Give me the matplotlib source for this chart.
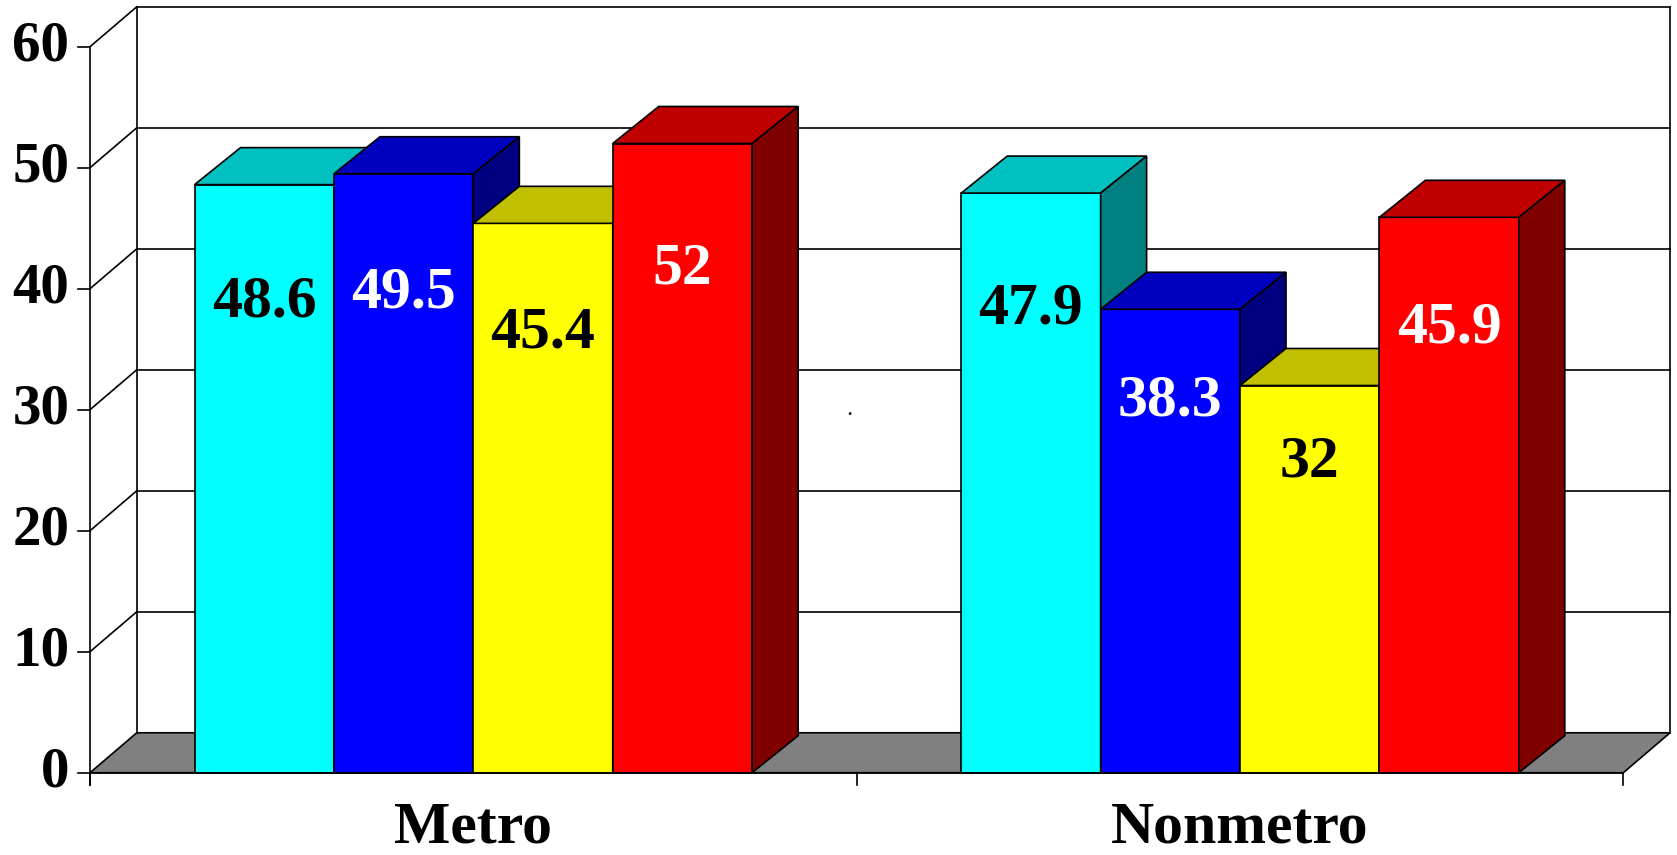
import matplotlib.pyplot as plt
from matplotlib.patches import Polygon

plt.rcParams["font.family"] = ["Liberation Serif", "DejaVu Serif"]
plt.rcParams["font.weight"] = "bold"

# Dane
categories = ["Metro", "Nonmetro"]
values = [[48.6, 49.5, 45.4, 52.0],
          [47.9, 38.3, 32.0, 45.9]]
value_labels = [["48.6", "49.5", "45.4", "52"],
                ["47.9", "38.3", "32", "45.9"]]
y_ticks = [0, 10, 20, 30, 40, 50, 60]

# Kolory serii: przód, góra, bok, kolor etykiety
front_cols = ["#00FFFF", "#0000FF", "#FFFF00", "#FF0000"]
top_cols = ["#00C0C0", "#0000C0", "#C0C000", "#C00000"]
side_cols = ["#008080", "#000080", "#808000", "#800000"]
text_cols = ["black", "white", "black", "white"]

n_series = 4
bar_w = 1 / (n_series + 1.5)    # gap width 150%
dxb, dyb = 0.060, 3.06          # głębokość słupków
dxw, dyw = 0.061, 3.3           # głębokość ścian
ymax = 60
lw = 1.2

fig = plt.figure(figsize=(16.77, 8.55), dpi=100)
ax = fig.add_axes([0, 0, 1, 1])
ax.set_xlim(-0.1174, 2.070)
ax.set_ylim(-6.80, 63.86)
ax.axis("off")

# Podłoga
ax.add_patch(Polygon([(0, 0), (2, 0), (2 + dxw, dyw), (dxw, dyw)],
                     closed=True, facecolor="#808080", edgecolor="black",
                     lw=lw, zorder=1))

# Tylna ściana z liniami siatki
for v in y_ticks[1:]:
    ax.plot([dxw, 2 + dxw], [v + dyw, v + dyw], color="black", lw=lw, zorder=1)
    ax.plot([0, dxw], [v, v + dyw], color="black", lw=lw, zorder=1)
ax.plot([dxw, dxw], [dyw, ymax + dyw], color="black", lw=lw, zorder=1)
ax.plot([2 + dxw, 2 + dxw], [dyw, ymax + dyw], color="black", lw=lw, zorder=1)

# Oś Y
ax.plot([0, 0], [-1.0, ymax], color="black", lw=lw, zorder=1)
for v in y_ticks:
    ax.plot([-0.016, 0], [v, v], color="black", lw=lw, zorder=1)
    ax.text(-0.027, v, str(v), ha="right", va="center", fontsize=41,
            fontweight="bold")

# Oś X
ax.plot([0, 2], [0, 0], color="black", lw=lw, zorder=10)
for i in range(3):
    ax.plot([i, i], [-1.0, 0], color="black", lw=lw, zorder=10)

# Słupki 3D
for g, cat in enumerate(categories):
    for k in range(n_series):
        h = values[g][k]
        x0 = g + 0.75 * bar_w + k * bar_w
        x1 = x0 + bar_w
        z = 2 + k
        ax.bar(x0, h, bar_w, align="edge", color=front_cols[k],
               edgecolor="black", lw=lw, zorder=z)
        ax.add_patch(Polygon([(x0, h), (x1, h), (x1 + dxb, h + dyb),
                              (x0 + dxb, h + dyb)], closed=True,
                             facecolor=top_cols[k], edgecolor="black",
                             lw=lw, zorder=z))
        ax.add_patch(Polygon([(x1, 0), (x1 + dxb, dyb), (x1 + dxb, h + dyb),
                              (x1, h)], closed=True,
                             facecolor=side_cols[k], edgecolor="black",
                             lw=lw, zorder=z))
        ax.text((x0 + x1) / 2, h * 0.8, value_labels[g][k], ha="center",
                va="center", fontsize=43, fontweight="bold",
                color=text_cols[k], zorder=20)
    ax.text(g + 0.5, -5.8, cat, ha="center", va="baseline", fontsize=43,
            fontweight="bold")

ax.text(0.991, 29.6, ".", ha="center", va="baseline", fontsize=12,
        fontweight="bold")

fig.savefig("out.png", dpi=100)
